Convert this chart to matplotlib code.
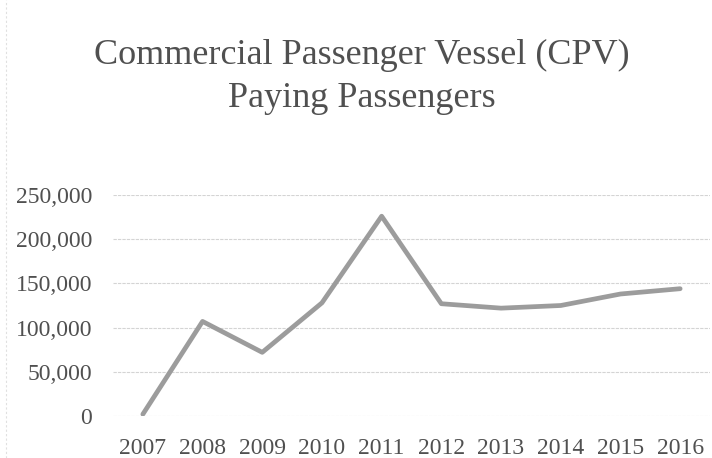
import matplotlib
matplotlib.use("Agg")
import matplotlib.pyplot as plt
from matplotlib.ticker import FuncFormatter

years = ["2007", "2008", "2009", "2010", "2011", "2012", "2013", "2014", "2015", "2016"]
passengers = [2000, 107000, 72000, 128000, 226000, 127000, 122000, 125000, 138000, 144000]
y_ticks = [0, 50000, 100000, 150000, 200000, 250000]
title = "Commercial Passenger Vessel (CPV)\nPaying Passengers"

plt.rcParams['font.family'] = ['Liberation Serif', 'DejaVu Serif']

fig = plt.figure(figsize=(7.12, 4.58), dpi=100)
ax = fig.add_axes([113/712, 1 - 416/458, (710 - 113)/712, (416 - 195)/458])

x = list(range(len(years)))
ax.plot(x, passengers, color='#9c9c9c', linewidth=3.4, solid_capstyle='round', solid_joinstyle='round')

ax.set_xlim(-0.5, len(years) - 0.5)
ax.set_ylim(0, 250000)
ax.set_xticks(x)
ax.set_xticklabels(years)
ax.set_yticks(y_ticks)
ax.yaxis.set_major_formatter(FuncFormatter(lambda v, p: f"{int(v):,}"))
ax.grid(axis='y', color='#d4d4d4', linewidth=0.8, linestyle=(0, (3, 1)))
ax.set_axisbelow(True)
for s in ax.spines.values():
    s.set_visible(False)
ax.tick_params(length=0, labelsize=17, colors='#505050')
ax.tick_params(axis='y', pad=15)
ax.tick_params(axis='x', pad=16)

fig.text(362/712, 1 - 77/458, title, ha='center', va='center', fontsize=26,
         color='#505050', linespacing=1.38)

# faint chart border on left edge
fig.add_artist(plt.Line2D([6/712, 6/712], [0, 1], transform=fig.transFigure,
                          color='#e0e0e0', linewidth=0.8, linestyle=(0, (2, 2))))

fig.savefig("out.png", dpi=100)
